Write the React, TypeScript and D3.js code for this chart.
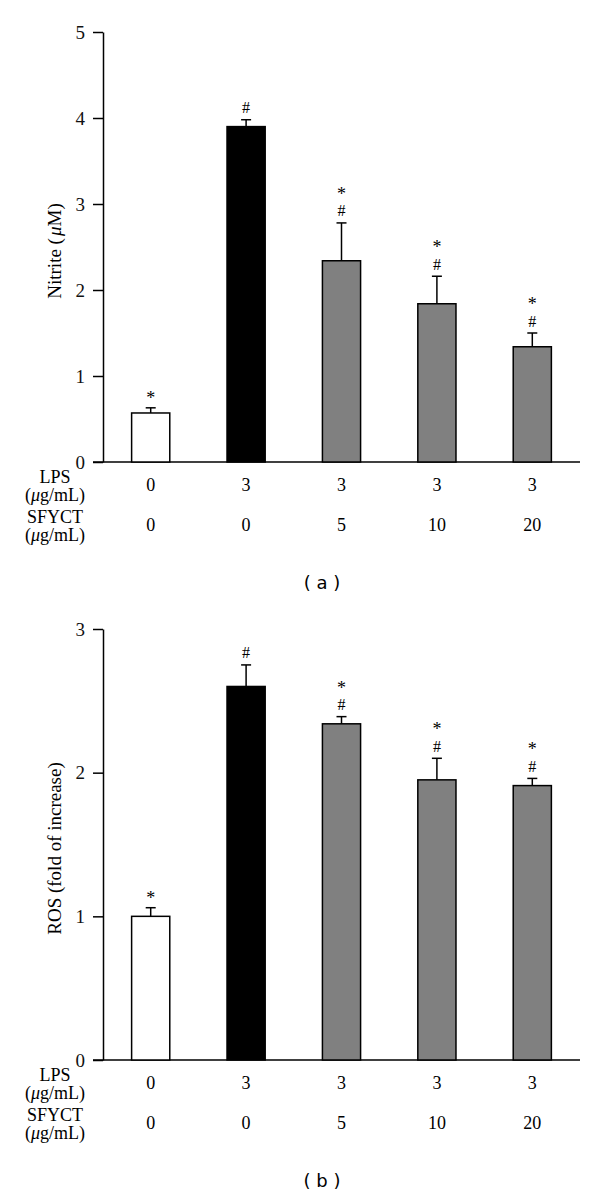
import * as d3 from 'd3';
import { useEffect, useRef } from 'react';

// dose rows under the x axis
const lpsDose = ['0', '3', '3', '3', '3'];
const sfyctDose = ['0', '0', '5', '10', '20'];

// panel (a): nitrite, µM
const nitriteMean = [0.57, 3.9, 2.34, 1.84, 1.34];
const nitriteErr = [0.06, 0.08, 0.44, 0.32, 0.16];
const nitriteTicks = [0, 1, 2, 3, 4, 5];

// panel (b): ROS, fold of increase
const rosMean = [1.0, 2.6, 2.34, 1.95, 1.91];
const rosErr = [0.06, 0.15, 0.05, 0.15, 0.05];
const rosTicks = [0, 1, 2, 3];

// significance marks, listed from the bar upward
const marks = [['*'], ['#'], ['#', '*'], ['#', '*'], ['#', '*']];
const barFill = ['#ffffff', '#000000', '#808080', '#808080', '#808080'];

const serif = '"Liberation Serif", "DejaVu Serif", serif';

type Panel = {
    top: number;
    bottom: number;
    max: number;
    ticks: number[];
    mean: number[];
    err: number[];
    label: string;
    letter: string;
};

const panels: Panel[] = [
    { top: 32, bottom: 462, max: 5, ticks: nitriteTicks, mean: nitriteMean, err: nitriteErr, label: 'Nitrite', letter: 'a' },
    { top: 629, bottom: 1060, max: 3, ticks: rosTicks, mean: rosMean, err: rosErr, label: 'ROS (fold of increase)', letter: 'b' },
];

export default function App() {
    const svgRef = useRef<SVGSVGElement>(null);
    const width = 600;
    const height = 1195;

    useEffect(() => {
        const svg = d3.select(svgRef.current);
        svg.selectAll('*').remove();

        svg.append('rect').attr('width', width).attr('height', height).attr('fill', 'white');

        const left = 103;
        const right = 580;
        const keys = d3.range(lpsDose.length).map(String);
        const xScale = d3.scaleBand().domain(keys).range([left, right]).paddingInner(0.6).paddingOuter(0.3);
        const bw = xScale.bandwidth();

        panels.forEach((p) => {
            const yScale = d3.scaleLinear().domain([0, p.max]).range([p.bottom, p.top]);
            const g = svg.append('g');

            // y axis
            const yAxis = g.append('g')
                .attr('transform', `translate(${left},0)`)
                .call(d3.axisLeft(yScale).tickValues(p.ticks).tickSize(10).tickPadding(8).tickSizeOuter(0).tickFormat(d3.format('d')));
            yAxis.select('.domain').attr('stroke-width', 1.5);
            yAxis.selectAll('line').attr('stroke-width', 1.5);
            yAxis.selectAll('text').style('font-family', serif).style('font-size', '19px').attr('fill', '#111');

            // x axis baseline
            g.append('line')
                .attr('x1', left - 10).attr('x2', right)
                .attr('y1', yScale(0)).attr('y2', yScale(0))
                .attr('stroke', '#000').attr('stroke-width', 1.5);

            // error bars
            keys.forEach((k, i) => {
                const cx = (xScale(k) || 0) + bw / 2;
                const yTop = yScale(p.mean[i] + p.err[i]);
                g.append('line')
                    .attr('x1', cx).attr('x2', cx)
                    .attr('y1', yScale(p.mean[i])).attr('y2', yTop)
                    .attr('stroke', '#000').attr('stroke-width', 1.5);
                g.append('line')
                    .attr('x1', cx - 5).attr('x2', cx + 5)
                    .attr('y1', yTop).attr('y2', yTop)
                    .attr('stroke', '#000').attr('stroke-width', 1.5);

                marks[i].forEach((m, j) => {
                    const centre = yTop - 12 - j * 19;
                    g.append('text')
                        .attr('x', cx)
                        .attr('y', centre + (m === '*' ? 8 : 5.5))
                        .attr('text-anchor', 'middle')
                        .style('font-family', serif)
                        .style('font-size', m === '*' ? '18px' : '16px')
                        .text(m);
                });
            });

            // bars
            g.selectAll('.bar')
                .data(keys)
                .enter()
                .append('rect')
                .attr('x', (k) => xScale(k) || 0)
                .attr('y', (k) => yScale(p.mean[+k]))
                .attr('width', bw)
                .attr('height', (k) => yScale(0) - yScale(p.mean[+k]))
                .attr('fill', (k) => barFill[+k])
                .attr('stroke', '#000')
                .attr('stroke-width', 1.5);

            // y label
            const yl = g.append('text')
                .attr('transform', `translate(61,${(p.top + p.bottom) / 2 + 4}) rotate(-90)`)
                .attr('text-anchor', 'middle')
                .style('font-family', serif)
                .style('font-size', '19px');
            if (p.letter === 'a') {
                yl.append('tspan').text('Nitrite (');
                yl.append('tspan').style('font-style', 'italic').attr('dx', 2).text('\u03bc');
                yl.append('tspan').text('M)');
            } else {
                yl.text(p.label);
            }

            // dose rows
            const rows = [
                { name: 'LPS', vals: lpsDose, y: p.bottom + 21, vy: p.bottom + 29 },
                { name: 'SFYCT', vals: sfyctDose, y: p.bottom + 61, vy: p.bottom + 69 },
            ];
            rows.forEach((r) => {
                g.append('text')
                    .attr('x', 55).attr('y', r.y)
                    .attr('text-anchor', 'middle')
                    .style('font-family', serif).style('font-size', '18px')
                    .text(r.name);
                const unit = g.append('text')
                    .attr('x', 55).attr('y', r.y + 18)
                    .attr('text-anchor', 'middle')
                    .style('font-family', serif).style('font-size', '18px');
                unit.append('tspan').text('(');
                unit.append('tspan').style('font-style', 'italic').text('\u03bc');
                unit.append('tspan').text('g/mL)');

                g.selectAll('.dose')
                    .data(keys)
                    .enter()
                    .append('text')
                    .attr('x', (k) => (xScale(k) || 0) + bw / 2)
                    .attr('y', r.vy)
                    .attr('text-anchor', 'middle')
                    .style('font-family', serif).style('font-size', '18px')
                    .text((k) => r.vals[+k]);
            });

            // panel letter
            g.append('text')
                .attr('x', 322).attr('y', p.bottom + 127)
                .attr('text-anchor', 'middle')
                .style('font-family', '"DejaVu Sans", Verdana, sans-serif')
                .style('font-size', '18px')
                .style('white-space', 'pre')
                .text(`( ${p.letter} )`);
        });
    }, []);

    return (
        <svg ref={svgRef} width={width} height={height}
            style={{ position: 'absolute', top: 0, left: 0, display: 'block' }}></svg>
    );
}
